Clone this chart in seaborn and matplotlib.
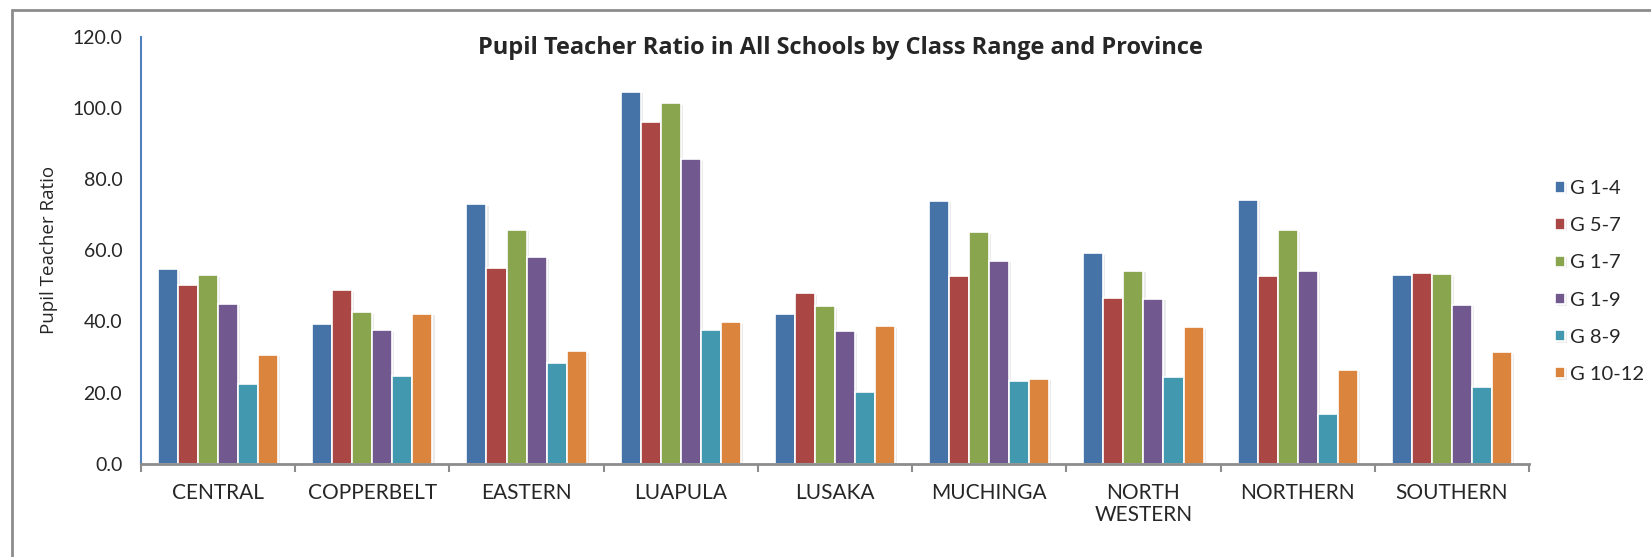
import numpy as np
import pandas as pd
import seaborn as sns
import matplotlib.pyplot as plt
import matplotlib.patheffects as pe
from matplotlib.patches import Rectangle
from matplotlib.ticker import FormatStrFormatter

# values
provinces = ["CENTRAL", "COPPERBELT", "EASTERN", "LUAPULA", "LUSAKA",
             "MUCHINGA", "NORTH\nWESTERN", "NORTHERN", "SOUTHERN"]
classes = ["G 1-4", "G 5-7", "G 1-7", "G 1-9", "G 8-9", "G 10-12"]
g1_4 = [54.7, 39.3, 72.9, 104.4, 42.0, 73.8, 59.1, 74.2, 53.1]
g5_7 = [50.2, 48.8, 54.9, 96.0, 47.9, 52.8, 46.7, 52.9, 53.6]
g1_7 = [53.0, 42.6, 65.7, 101.3, 44.3, 65.0, 54.2, 65.6, 53.3]
g1_9 = [44.9, 37.5, 58.0, 85.5, 37.2, 57.0, 46.3, 54.2, 44.7]
g8_9 = [22.4, 24.6, 28.3, 37.6, 20.1, 23.4, 24.3, 14.1, 21.5]
g10_12 = [30.7, 42.1, 31.6, 39.8, 38.6, 24.0, 38.4, 26.4, 31.4]
colors = ["#4572a7", "#aa4643", "#89a54e", "#71588f", "#4198af", "#db843d"]

series = [g1_4, g5_7, g1_7, g1_9, g8_9, g10_12]
df = pd.concat([pd.DataFrame({"province": provinces, "class": c, "ratio": v})
                for c, v in zip(classes, series)], ignore_index=True)

sns.set_style("white")
plt.rcParams["font.family"] = ["Lato", "DejaVu Sans"]

fig = plt.figure(figsize=(16.51, 5.57), dpi=100)
ax = fig.add_axes([141 / 1651, 1 - 464 / 557, 1388 / 1651, 427.5 / 557])

sns.barplot(data=df, x="province", y="ratio", hue="class", order=provinces,
            hue_order=classes, palette=colors, saturation=1, width=0.78,
            edgecolor="white", linewidth=1.2, errorbar=None, ax=ax)

# faint drop shadow like the office chart
for p in ax.patches:
    p.set_path_effects([pe.SimplePatchShadow(offset=(1.5, -1), shadow_rgbFace="#b0b0b0", alpha=0.25),
                        pe.Normal()])

ax.set_ylim(0, 120)
ax.set_xlim(-0.5, 8.5)
ax.set_yticks(np.arange(0, 121, 20))
ax.yaxis.set_major_formatter(FormatStrFormatter("%.1f"))
ax.set_xticks(np.arange(-0.5, 9, 1), minor=True)

ax.tick_params(axis="y", length=4.5, width=1.5, color="#4f81bd", pad=9, labelsize=14)
ax.tick_params(axis="x", which="major", length=0, pad=14, labelsize=15)
ax.tick_params(axis="x", which="minor", length=6, width=1.5, color="#8c8c8c", bottom=True)
for lab in ax.get_xticklabels():
    lab.set_linespacing(1.1)

sns.despine(ax=ax)
ax.spines["left"].set_color("#4f81bd")
ax.spines["left"].set_linewidth(1.5)
ax.spines["bottom"].set_color("#8c8c8c")
ax.spines["bottom"].set_linewidth(2)

ax.set_xlabel("")
ax.set_ylabel("Pupil Teacher Ratio", fontsize=13.5, family=["Open Sans", "DejaVu Sans"])
ax.yaxis.set_label_coords(-0.060, 0.5)

fig.text(840 / 1651, 1 - 48 / 557, "Pupil Teacher Ratio in All Schools by Class Range and Province",
         ha="center", va="center", fontsize=17, fontweight="bold", family=["Open Sans", "DejaVu Sans"])

ax.legend(loc="center left", bbox_to_anchor=(1555 / 1651, 1 - 281.5 / 557),
          bbox_transform=fig.transFigure, frameon=False, fontsize=14.5,
          handlelength=0.5, handleheight=0.5, handletextpad=0.25,
          labelspacing=1.0, borderpad=0, borderaxespad=0)

# outer chart frame: only its top and left edges fall inside the picture
fig.patches.append(Rectangle((12, -100), 1700, 647, transform=None, fill=False,
                             edgecolor="#8c8c8c", linewidth=2))

fig.savefig("out.png", dpi=100)
